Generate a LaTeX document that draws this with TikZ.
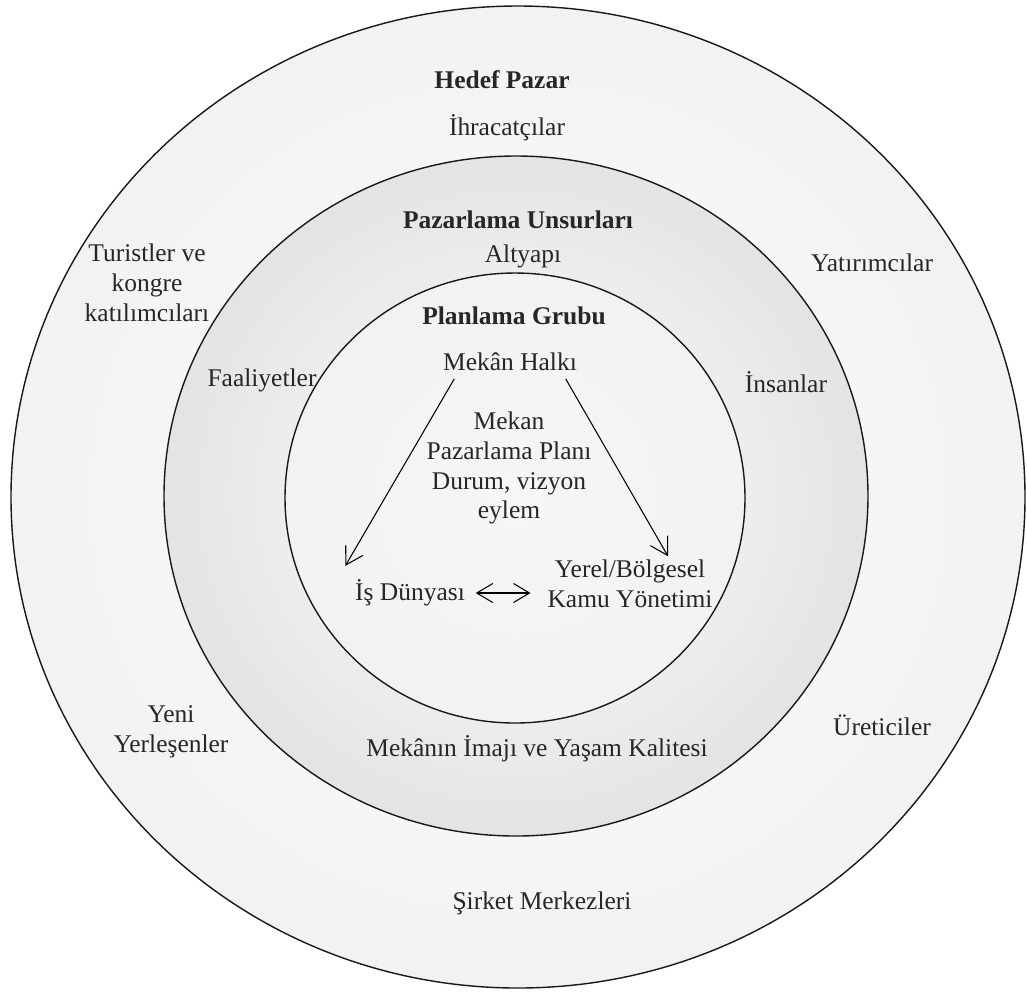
\documentclass[tikz,border=0pt]{standalone}
\usepackage{fontspec}
\setmainfont{Liberation Serif}
\usetikzlibrary{arrows.meta}
\pgfdeclareradialshading{outerring}{\pgfpoint{0bp}{0bp}}{color(0bp)=(white); color(40bp)=(gray!17); color(48bp)=(gray!19); color(50bp)=(gray!24)}
\pgfdeclareradialshading{middlering}{\pgfpoint{0bp}{0bp}}{color(0bp)=(white); color(32.5bp)=(gray!28); color(35bp)=(gray!20); color(44bp)=(gray!18); color(50bp)=(gray!28)}
\pgfdeclareradialshading{innerring}{\pgfpoint{0bp}{0bp}}{color(0bp)=(gray!7); color(38bp)=(gray!12); color(50bp)=(gray!22)}
\tikzset{
  lbl/.style={font=\fontsize{14.5}{17}\selectfont, text=black!85, align=center, inner sep=2pt},
  ttl/.style={lbl, font=\fontsize{14.5}{17}\selectfont\bfseries},
  ring/.style={draw=black!90, line width=0.8pt},
  link/.style={-{Straight Barb[length=3.4mm,width=4mm]}, line width=0.6pt},
  both/.style={{Straight Barb[length=3.2mm,width=3.8mm]}-{Straight Barb[length=3.2mm,width=3.8mm]}, line width=0.6pt}
}
\begin{document}
\begin{tikzpicture}[x=0.02cm,y=-0.02cm]
      \useasboundingbox (0,0) rectangle (1027,992);
      \shade[ring, shading=outerring] (518,497) ellipse [x radius=507, y radius=491];
      \shade[ring, shading=middlering] (516,496) ellipse [x radius=352, y radius=340];
      \shade[ring, shading=innerring] (515,498) ellipse [x radius=230, y radius=225];
      \draw
        (502,80) node[ttl] (hedef){Hedef Pazar}
        (507,128) node[lbl] (ihrac){İhracatçılar}
        (147,283) node[lbl] (turist){Turistler ve\\kongre\\katılımcıları}
        (872,263) node[lbl] (yatirim){Yatırımcılar}
        (171,732) node[lbl] (yeni){Yeni\\Yerleşenler}
        (882,725) node[lbl] (uretici){Üreticiler}
        (542,903) node[lbl] (sirket){Şirket Merkezleri}
        (518,220) node[ttl] (unsur){Pazarlama Unsurları}
        (523,256) node[lbl] (altyapi){Altyapı}
        (262,380) node[lbl] (faal){Faaliyetler}
        (786,382) node[lbl] (insan){İnsanlar}
        (537,749) node[lbl] (imaj){Mekânın İmajı ve Yaşam Kalitesi}
        (514,316) node[ttl] (grup){Planlama Grubu}
        (510,362) node[lbl] (halk){Mekân Halkı}
        (509,468) node[lbl] (plan){Mekan\\Pazarlama Planı\\Durum, vizyon\\eylem}
        (410,593) node[lbl] (is){İş Dünyası}
        (630,584) node[lbl] (yerel){Yerel/Bölgesel\\Kamu Yönetimi};
      \begin{scope}[link]
        \draw ([shift={(15,4)}]halk.south west) to ([shift={(-6,-10)}]is.north west);
        \draw ([shift={(-15,4)}]halk.south east) to ([shift={(38,0)}]yerel.north);
      \end{scope}
      \draw[both, shorten <=4pt, shorten >=7.5pt] (is.east) -- (is.east -| yerel.west);
    \end{tikzpicture}
\end{document}
